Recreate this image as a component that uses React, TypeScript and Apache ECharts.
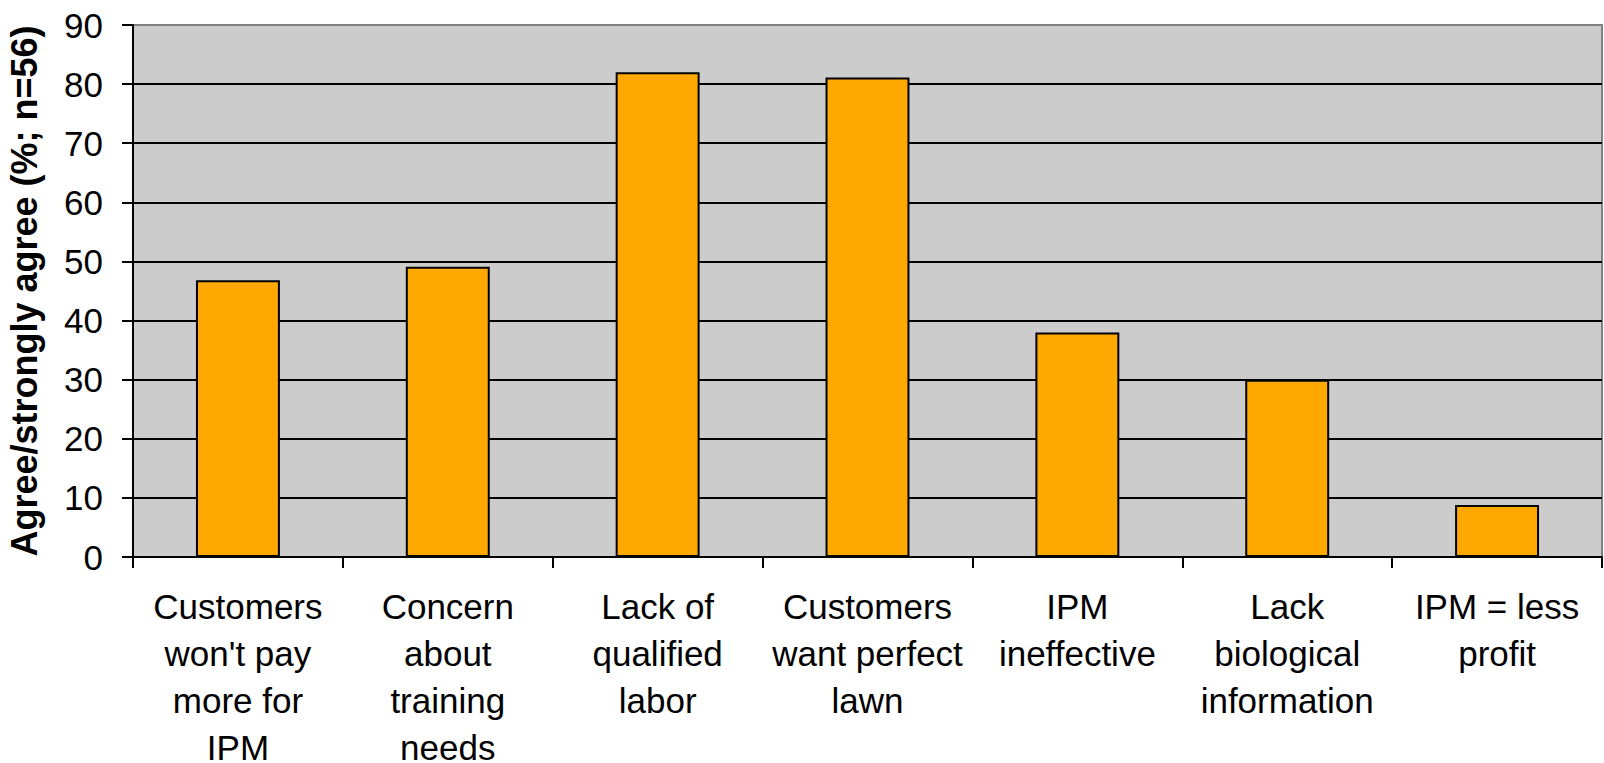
import React, { useEffect, useRef } from "react";
import * as echarts from "echarts";

const categories = [
  "Customers\nwon't pay\nmore for\nIPM",
  "Concern\nabout\ntraining\nneeds",
  "Lack of\nqualified\nlabor",
  "Customers\nwant perfect\nlawn",
  "IPM\nineffective",
  "Lack\nbiological\ninformation",
  "IPM = less\nprofit",
];
const values = [46.8, 49.1, 82.0, 81.1, 38.0, 30.0, 8.8];
const yTitle = "Agree/strongly agree (%; n=56)";

export default function App() {
  const ref = useRef<HTMLDivElement>(null);
  useEffect(() => {
    document.body.style.margin = "0";
    const chart = echarts.init(ref.current!, null, { renderer: "svg" });
    const gridColors = ["#000", "#000", "#000", "#000", "#000", "#000", "#000", "#000", "#000", "#808080"];
    chart.setOption({
      animation: false,
      grid: {
        left: 133,
        top: 25,
        right: 2,
        bottom: 206,
        containLabel: false,
        outerBoundsMode: "none",
        show: true,
        backgroundColor: "#CCCCCC",
        borderColor: "#808080",
        borderWidth: 2,
      },
      xAxis: {
        type: "category",
        data: categories,
        axisLine: { lineStyle: { color: "#000", width: 2 } },
        axisTick: { show: true, length: 11, lineStyle: { color: "#000", width: 2 } },
        axisLabel: {
          color: "#000",
          fontFamily: "Liberation Sans, Arial, sans-serif",
          fontSize: 35,
          lineHeight: 47,
          margin: 26,
          interval: 0,
          align: "center",
        },
      },
      yAxis: {
        type: "value",
        min: 0,
        max: 90,
        interval: 10,
        name: yTitle,
        nameLocation: "middle",
        nameGap: 91,
        nameTextStyle: {
          color: "#000",
          fontFamily: "Liberation Sans, Arial, sans-serif",
          fontSize: 36,
          fontWeight: "bold",
        },
        axisLine: { show: true, lineStyle: { color: "#000", width: 2 } },
        axisTick: { show: true, length: 11, lineStyle: { color: "#000", width: 2 } },
        axisLabel: {
          color: "#000",
          fontFamily: "Liberation Sans, Arial, sans-serif",
          fontSize: 35,
          margin: 30,
        },
        splitLine: { show: true, lineStyle: { color: gridColors, width: 2 } },
      },
      series: [
        {
          type: "bar",
          data: values,
          barCategoryGap: "60%",
          itemStyle: { color: "#FFA900", borderColor: "#000", borderWidth: 2 },
        },
      ],
    });
    return () => chart.dispose();
  }, []);
  return <div ref={ref} style={{ width: 1604, height: 763 }} />;
}
